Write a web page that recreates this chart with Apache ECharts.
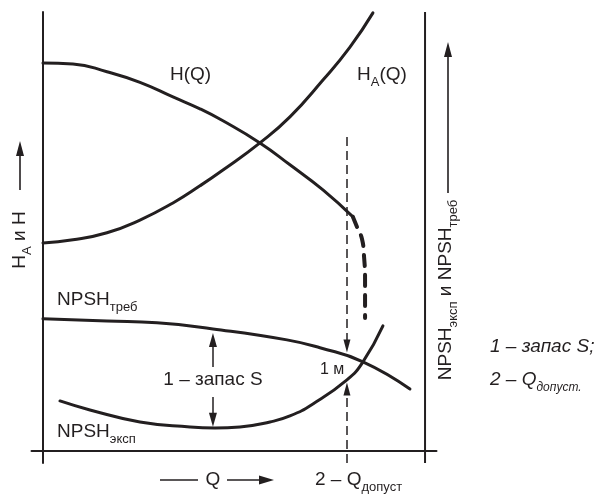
<!DOCTYPE html>
<html><head><meta charset="utf-8">
<script src="https://cdn.jsdelivr.net/npm/echarts@6/dist/echarts.min.js"></script>
<style>html,body{margin:0;padding:0;background:#fff}#c{width:600px;height:494px}</style>
</head><body><div id="c"></div>
<script>
// Curve values (Q on x, head on y; arbitrary 0..100 units)
const curveH = [[0,88.38],[7.85,88.15],[16.75,86.39],[25.39,83.98],[34.02,80.65],[41.09,77.94],[47.11,75.21],[56.79,70.17],[64.64,65.19],[73.28,59.47],[81.13,53.31]];
const curveHtail = [[81.13,53.31],[82.4,50.6],[83.5,48.3],[84.0,44.7],[84.3,39.0],[84.3,30.3]];
const curveHA = [[0,47.4],[7.85,48.1],[16.75,49.7],[25.39,52.6],[34.02,56.5],[41.09,60.4],[47.11,64.0],[56.79,70.2],[64.64,76.1],[73.28,84.5],[80.35,92.0],[86.36,99.8]];
const curveTreb = [[0,30.1],[16.75,29.6],[29.84,29.2],[44.49,27.8],[63.86,25.3],[72.49,23.5],[83.75,20.3],[96.05,14.1]];
const curveEksp = [[4.45,11.39],[12.3,9.34],[25.39,6.61],[38.47,5.47],[45.01,5.24],[51.56,5.47],[59.41,6.61],[64.64,7.97],[70.66,10.71],[79.56,16.18],[83.75,20.28],[88.98,28.48]];
const qAllowed = 79.56;      // 2 – Q допуст
const qReserve = 44.49;      // position of "1 – запас S" arrow
const rightFrame = [[100,-2.75],[100,100]];

const INK = '#231f20';
const FONT = '"Liberation Sans", Arial, Helvetica, sans-serif';

function curve(name, data, extra) {
  return Object.assign({
    name, type: 'line', data, smooth: 0.5, symbol: 'none', silent: true,
    lineStyle: { color: INK, width: 3, cap: 'round' }
  }, extra || {});
}
function arrow(x1, y1, x2, y2, dashed, size) {
  return [
    { coord: [x1, y1], symbol: 'none' },
    { coord: [x2, y2], symbol: 'triangle', symbolSize: size,
      lineStyle: { color: INK, width: 1.5, type: dashed ? [9, 5] : 'solid' } }
  ];
}
const richMain = { fontSize: 19, fontFamily: FONT, color: INK };
const richSub = { fontSize: 13, fontFamily: FONT, color: INK, padding: [14, 0, 0, 0] };
const richMainI = { fontSize: 19, fontFamily: FONT, color: INK, fontStyle: 'italic' };
const richSubI = { fontSize: 12, fontFamily: FONT, color: INK, fontStyle: 'italic', padding: [16, 0, 0, 0] };
function label(text, x, y, align, rot) {
  return {
    type: 'text', x, y, rotation: rot || 0, silent: true,
    style: { text, align: align || 'left', verticalAlign: 'middle', textAlign: align || 'left', textVerticalAlign: 'middle',
      rich: { m: richMain, s: richSub, mi: richMainI, si: richSubI }, fill: INK }
  };
}
function seg(x1, y1, x2, y2) {
  return { type: 'line', silent: true, shape: { x1, y1, x2, y2 }, style: { stroke: INK, lineWidth: 1.6 } };
}
function head(points) {
  return { type: 'polygon', silent: true, shape: { points }, style: { fill: INK } };
}

const chart = echarts.init(document.getElementById('c'), null, { renderer: 'canvas' });
chart.setOption({
  animation: false,
  backgroundColor: '#fff',
  grid: { left: 31.5, right: 163.5, top: 12, bottom: 31 },
  xAxis: { type: 'value', min: -3, max: 103, axisLine: { onZero: true, lineStyle: { color: INK, width: 2 } },
    axisTick: { show: false }, axisLabel: { show: false }, splitLine: { show: false } },
  yAxis: { type: 'value', min: -2.75, max: 100, axisLine: { onZero: true, lineStyle: { color: INK, width: 2 } },
    axisTick: { show: false }, axisLabel: { show: false }, splitLine: { show: false } },
  series: [
    curve('H(Q)', curveH),
    curve('H(Q) tail', curveHtail, { lineStyle: { color: INK, width: 4, type: [11, 9], cap: 'round' } }),
    curve('HA(Q)', curveHA),
    curve('NPSH треб', curveTreb),
    curve('NPSH эксп', curveEksp),
    {
      name: 'frame', type: 'line', data: rightFrame, symbol: 'none', silent: true,
      lineStyle: { color: INK, width: 2 },
      markLine: {
        silent: true, animation: false, label: { show: false },
        symbol: ['none', 'triangle'],
        lineStyle: { color: INK, width: 1.5, type: 'solid' },
        emphasis: { disabled: true },
        data: [
          arrow(qAllowed, 71.5, qAllowed, 23.9, true, [7, 13]),
          arrow(qAllowed, -2.75, qAllowed, 14.1, true, [7, 13]),
          arrow(qReserve, 19.1, qReserve, 25.3, false, [8, 14]),
          arrow(qReserve, 12.3, qReserve, 7.1, false, [8, 14])
        ]
      }
    }
  ],
  graphic: [
    label('{m|H(Q)}', 170, 75),
    label('{m|H}{s|A}{m|(Q)}', 357, 75),
    label('{m|NPSH}{s|треб}', 57, 300),
    label('{m|NPSH}{s|эксп}', 57, 432),
    label('{m|1 – запас S}', 213, 380, 'center'),
    { type: 'text', x: 320, y: 370, silent: true,
      style: { text: '1 м', fontSize: 16, fontFamily: FONT, fill: INK, align: 'left', verticalAlign: 'middle', textAlign: 'left', textVerticalAlign: 'middle' } },
    label('{m|Q}', 213, 480, 'center'),
    seg(160, 480, 198, 480), seg(227, 480, 262, 480), head([[274, 480], [259, 475.5], [259, 484.5]]),
    label('{m|2 – Q}{s|допуст}', 315, 480),
    label('{m|H}{s|A}{m| и H}', 20, 240, 'center', Math.PI / 2),
    seg(20, 190, 20, 153), head([[20, 141], [16, 156], [24, 156]]),
    label('{m|NPSH}{s|эксп}{m| и NPSH}{s|треб}', 446, 290, 'center', Math.PI / 2),
    seg(448, 193, 448, 55), head([[448, 42], [444, 57], [452, 57]]),
    label('{mi|1 – запас S;}', 490, 347),
    label('{mi|2 – Q}{si|допуст.}', 490, 380)
  ]
});
</script></body></html>
